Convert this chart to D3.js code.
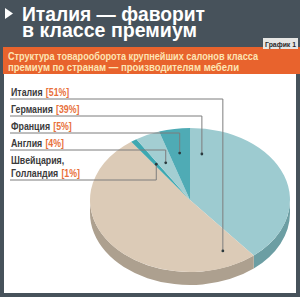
<!DOCTYPE html>
<html>
<head>
<meta charset="utf-8">
<script src="https://cdn.jsdelivr.net/npm/d3@7"></script>
<style>
  body { margin: 0; }
  text { font-family: "Liberation Sans", Arial, sans-serif; font-weight: bold; }
</style>
</head>
<body>
<svg class="chart" width="300" height="297"></svg>
<script>
// Data: share of premium furniture salons turnover by producing country
var countries = ["Италия", "Германия", "Франция", "Англия", "Швейцария, Голландия"];
var shares = [51, 39, 5, 4, 1];
// clockwise from 12 o'clock, as on the picture
var sliceOrder = ["Германия", "Италия", "Швейцария, Голландия", "Англия", "Франция"];
var titleLines = ["Италия — фаворит", "в классе премиум"];
var subtitleLines = ["Структура товарооборота крупнейших салонов класса", "премиум по странам — производителям мебели"];
var badge = "График 1";

var svg = d3.select(".chart"),
    W = +svg.attr("width"),
    H = +svg.attr("height");

var colors = {
    "Германия": ["#9dcbd0", "#6c9ea3"],
    "Италия": ["#dccbb7", "#ada08f"],
    "Швейцария, Голландия": ["#3ea8b1", "#2e8088"],
    "Англия": ["#a3ced2", "#76a2a6"],
    "Франция": ["#4fabb5", "#3a858d"]
};

// Background frame
svg.append("rect").attr("width", W).attr("height", H).attr("fill", "#47525b");
svg.append("rect").attr("x", 4).attr("y", 74).attr("width", W - 8).attr("height", 219).attr("fill", "#ffffff");
svg.append("rect").attr("x", 3).attr("y", 47).attr("width", W - 3).attr("height", 27).attr("fill", "#e8632d");

// Title
svg.append("path").attr("d", "M5,8L13,13.5L5,19Z").attr("fill", "#ffffff");
var titleWidths = [183, 175];
svg.selectAll(".title")
    .data(titleLines)
    .enter()
        .append("text")
        .attr("class", "title")
        .attr("x", 22)
        .attr("y", function(d, i) { return 20.5 + i * 16.5; })
        .attr("textLength", function(d, i) { return titleWidths[i]; })
        .attr("lengthAdjust", "spacingAndGlyphs")
        .attr("font-size", 20.5)
        .attr("fill", "#ffffff")
        .text(function(d) { return d; });

// Badge
svg.append("rect").attr("x", 263).attr("y", 38).attr("width", 35).attr("height", 11).attr("fill", "#e6e6e4");
svg.append("text").attr("x", 265).attr("y", 46.5)
    .attr("textLength", 31).attr("lengthAdjust", "spacingAndGlyphs")
    .attr("font-size", 8).attr("fill", "#2b2b2b").text(badge);

// Subtitle
var subWidths = [250, 231];
svg.selectAll(".sub")
    .data(subtitleLines)
    .enter()
        .append("text")
        .attr("class", "sub")
        .attr("x", 8)
        .attr("y", function(d, i) { return 60 + i * 11; })
        .attr("textLength", function(d, i) { return subWidths[i]; })
        .attr("lengthAdjust", "spacingAndGlyphs")
        .attr("font-size", 10)
        .attr("fill", "#fde5b4")
        .text(function(d) { return d; });

// Pie geometry (elliptical, with depth)
var cx = 190, cy = 200, rx = 100, ry = 72, depth = 13;
function pt(a, r, dy) {
    return [cx + rx * r * Math.sin(a), cy - ry * r * Math.cos(a) + (dy || 0)];
}

var pieData = sliceOrder.map(function(name) {
    return {name: name, value: shares[countries.indexOf(name)]};
});
var arcs = d3.pie().sort(null).value(function(d) { return d.value; })(pieData);

var pieG = svg.append("g");

// Side walls (front half only)
arcs.forEach(function(a) {
    var s = Math.max(a.startAngle, Math.PI / 2),
        e = Math.min(a.endAngle, 3 * Math.PI / 2);
    if (s >= e) return;
    var p0 = pt(s, 1), p1 = pt(e, 1), p2 = pt(e, 1, depth), p3 = pt(s, 1, depth);
    pieG.append("path")
        .attr("d", "M" + p0 + "A" + rx + "," + ry + " 0 0,1 " + p1 +
            "L" + p2 + "A" + rx + "," + ry + " 0 0,0 " + p3 + "Z")
        .attr("fill", colors[a.data.name][1]);
});

// Top faces
arcs.forEach(function(a) {
    var p0 = pt(a.startAngle, 1), p1 = pt(a.endAngle, 1),
        large = (a.endAngle - a.startAngle) > Math.PI ? 1 : 0;
    pieG.append("path")
        .attr("d", "M" + cx + "," + cy + "L" + p0 + "A" + rx + "," + ry + " 0 " + large + ",1 " + p1 + "Z")
        .attr("fill", colors[a.data.name][0]);
});

// Leader anchors inside each slice: [fraction of slice angle, fraction of radius]
var anchors = {
    "Италия": [0.08, 0.78],
    "Германия": [0.075, 0.65],
    "Франция": [0.5, 0.66],
    "Англия": [0.5, 0.57],
    "Швейцария, Голландия": [0.5, 0.6]
};

// Labels on the left: narrow look by squeezing the whole text group horizontally
var squeeze = 0.8;
var lines = svg.append("g");
var labels = svg.append("g").attr("transform", "translate(11,0) scale(" + squeeze + ",1)");

var rowY = 99;
countries.forEach(function(name, i) {
    var a = arcs.filter(function(d) { return d.data.name === name; })[0];
    var an = anchors[name];
    var ang = a.startAngle + (a.endAngle - a.startAngle) * an[0];
    var dot = pt(ang, an[1]);
    var parts = name.indexOf(", ") >= 0 ? [name.split(" ")[0], name.split(" ")[1]] : [name];
    if (parts.length > 1) rowY += 13;

    parts.forEach(function(line, j) {
        var y = rowY - 3 - (parts.length - 1 - j) * 13;
        var t = labels.append("text")
            .attr("x", 0).attr("y", y)
            .attr("font-size", 11).attr("fill", "#3b3b3b")
            .text(line);
        if (j === parts.length - 1) {
            var w = t.node().getComputedTextLength();
            labels.append("text")
                .attr("x", w + 4).attr("y", y)
                .attr("font-size", 11).attr("fill", "#e8703a")
                .text("[" + shares[i] + "%]");
        }
    });

    lines.append("path")
        .attr("d", "M10," + rowY + "H" + dot[0] + "V" + dot[1])
        .attr("fill", "none")
        .attr("stroke", "#7d7d7d")
        .attr("stroke-width", 1);
    lines.append("circle")
        .attr("cx", dot[0]).attr("cy", dot[1]).attr("r", 1.4)
        .attr("fill", "#2b3a3e");

    rowY += 17;
});
</script>
</body>
</html>
